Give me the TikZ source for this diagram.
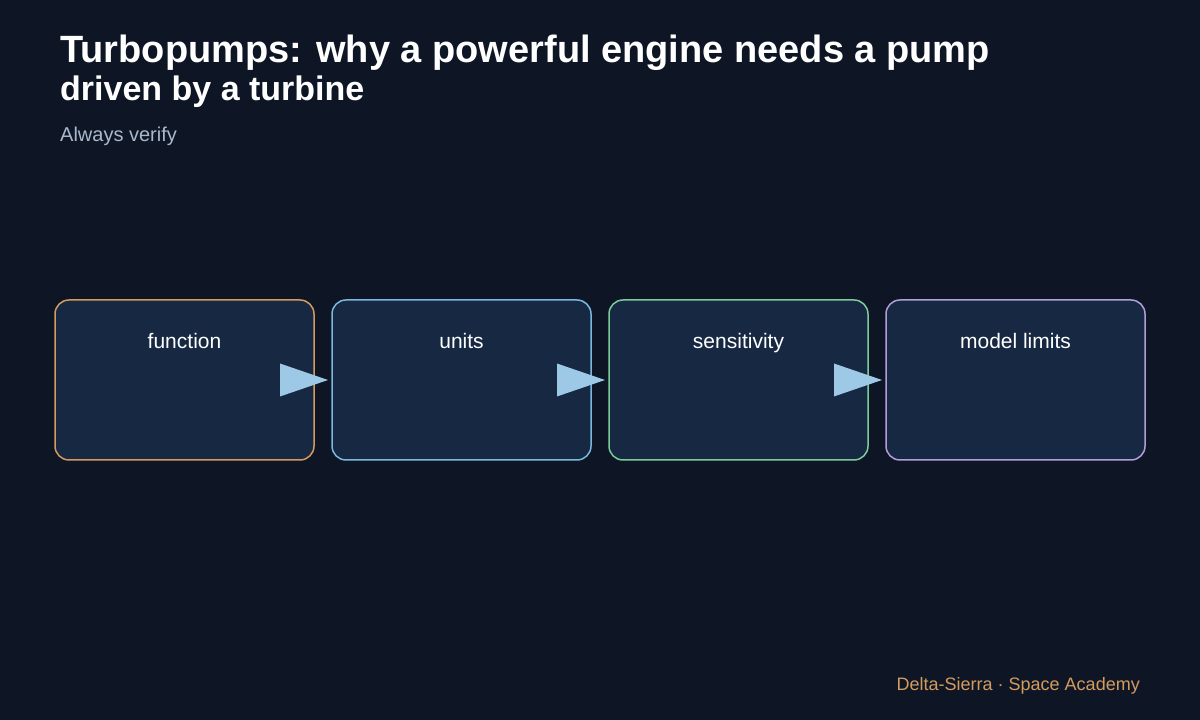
\documentclass[tikz,border=0pt]{standalone}
\usepackage{fontspec}
\setmainfont{Liberation Sans}
\usetikzlibrary{positioning}
\definecolor{bg}{HTML}{0E1626}
\definecolor{boxfill}{HTML}{172842}
\definecolor{cOrange}{HTML}{D49A5E}
\definecolor{cBlue}{HTML}{7AB8E0}
\definecolor{cGreen}{HTML}{7DCB9A}
\definecolor{cPurple}{HTML}{B39DDB}
\definecolor{flowc}{HTML}{9DC8E6}
\definecolor{subc}{HTML}{A9B8CC}
\tikzset{
  step/.style={draw=#1, line width=1.5pt, fill=boxfill, rounded corners=14pt,
    minimum width=259pt, minimum height=160pt, inner sep=0pt, outer sep=0pt},
  lbl/.style={text=white, font=\fontsize{21}{25}\selectfont},
  flow/.style={fill=flowc}
}
\begin{document}
\begin{tikzpicture}[x=1pt,y=1pt]
  \fill[bg] (0,0) rectangle (1200,720);
  \useasboundingbox (0,0) rectangle (1200,720);
  \node[anchor=base west, inner sep=0pt, text=white, font=\bfseries\fontsize{38}{44}\selectfont] (t1) at (60,657) {Turbopumps: why a powerful engine needs a pump};
  \node[anchor=base west, inner sep=0pt, text=white, font=\bfseries\fontsize{34}{40}\selectfont] (t2) at (60,619) {driven by a turbine};
  \node[anchor=base west, inner sep=0pt, text=subc, font=\fontsize{20}{24}\selectfont] (sub) at (60,578) {Always verify};

  \node[step=cOrange] (fun) at (184.5,340) {};
  \node[step=cBlue, right=18pt of fun] (uni) {};
  \node[step=cGreen, right=18pt of uni] (sen) {};
  \node[step=cPurple, right=18pt of sen] (mod) {};

  \foreach \n/\t in {fun/function, uni/units, sen/sensitivity, mod/model limits}
    \node[lbl, anchor=base] at ([yshift=-49pt]\n.north) {\t};

  % flow triangles
  \foreach \a/\b in {fun/uni, uni/sen, sen/mod}
    \fill[flow] ([xshift=-34pt,yshift=16.5pt]\a.east) -- ([xshift=-4pt]\b.west)
      -- ([xshift=-34pt,yshift=-16.5pt]\a.east) -- cycle;

  \node[anchor=base east, inner sep=0pt, text=cOrange, font=\fontsize{18}{22}\selectfont] (foot) at (1140,29) {Delta-Sierra · Space Academy};
\end{tikzpicture}
\end{document}
